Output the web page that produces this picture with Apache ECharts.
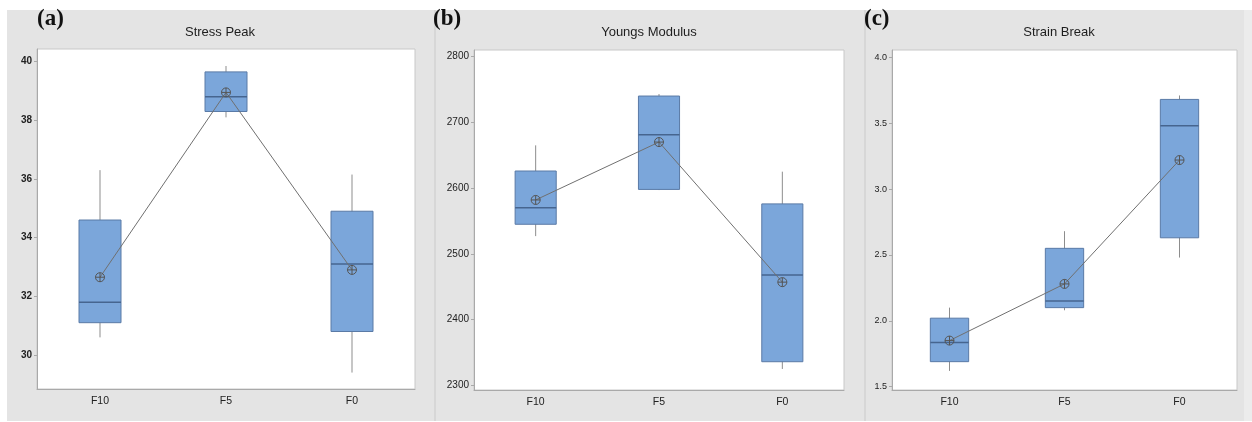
<!DOCTYPE html>
<html>
<head>
<meta charset="utf-8">
<script src="https://cdn.jsdelivr.net/npm/echarts@6/dist/echarts.min.js"></script>
<style>
  html, body { margin: 0; padding: 0; background: #fff; }
  #wrap { position: relative; width: 1252px; height: 422px; }
  .panel { position: absolute; top: 10px; height: 411px; background: #e4e4e4; }
  .sep { position: absolute; top: 10px; height: 411px; width: 2px; background: #d7d7d7; }
  #main { position: absolute; left: 0; top: 0; width: 1252px; height: 422px; }
</style>
</head>
<body>
<div id="wrap">
  <div class="panel" style="left:7px;width:1237px"></div>
  <div class="panel" style="left:1244px;width:8px;background:#ececec"></div>
  <div class="sep" style="left:434px"></div>
  <div class="sep" style="left:864px"></div>
  <div id="main"></div>
</div>
<script>
// groups on the x axis
var categories = ['F10', 'F5', 'F0'];

// (a) Stress Peak
var stressLow = [30.6, 38.1, 29.4];
var stressQ1 = [31.1, 38.3, 30.8];
var stressMedian = [31.8, 38.8, 33.1];
var stressQ3 = [34.6, 39.65, 34.9];
var stressHigh = [36.3, 39.85, 36.15];
var stressMean = [32.65, 38.95, 32.9];
var stressTicks = [30, 32, 34, 36, 38, 40];

// (b) Youngs Modulus
var youngsLow = [2527, 2597, 2325];
var youngsQ1 = [2545, 2598, 2336];
var youngsMedian = [2570, 2681, 2468];
var youngsQ3 = [2626, 2740, 2576];
var youngsHigh = [2665, 2743, 2625];
var youngsMean = [2582, 2670, 2457];
var youngsTicks = [2300, 2400, 2500, 2600, 2700, 2800];

// (c) Strain Break
var strainLow = [1.62, 2.08, 2.48];
var strainQ1 = [1.69, 2.10, 2.63];
var strainMedian = [1.835, 2.15, 3.48];
var strainQ3 = [2.02, 2.55, 3.68];
var strainHigh = [2.10, 2.68, 3.71];
var strainMean = [1.85, 2.28, 3.22];
var strainTicks = [1.5, 2.0, 2.5, 3.0, 3.5, 4.0];

var panels = [
  {label: '(a)', title: 'Stress Peak', low: stressLow, q1: stressQ1, med: stressMedian, q3: stressQ3, high: stressHigh, mean: stressMean, ticks: stressTicks,
   min: 28.84, max: 40.43, grid: {left: 37, top: 49, width: 378, height: 340}, titleX: 220, labelX: 37, fontSize: 10, bold: 'bold', fmt: function (v) { return v; }},
  {label: '(b)', title: 'Youngs Modulus', low: youngsLow, q1: youngsQ1, med: youngsMedian, q3: youngsQ3, high: youngsHigh, mean: youngsMean, ticks: youngsTicks,
   min: 2293, max: 2810, grid: {left: 474, top: 50, width: 370, height: 340}, titleX: 649, labelX: 433, fontSize: 10, bold: 'normal', fmt: function (v) { return v; }},
  {label: '(c)', title: 'Strain Break', low: strainLow, q1: strainQ1, med: strainMedian, q3: strainQ3, high: strainHigh, mean: strainMean, ticks: strainTicks,
   min: 1.475, max: 4.055, grid: {left: 892, top: 50, width: 345, height: 340}, titleX: 1059, labelX: 864, fontSize: 9, bold: 'normal', fmt: function (v) { return v.toFixed(1); }}
];

var font = '"Liberation Sans Narrow", "Liberation Sans", sans-serif';

function renderBox(params, api) {
  var x = api.value(0);
  var lo = api.coord([x, api.value(1)]);
  var q1 = api.coord([x, api.value(2)]);
  var md = api.coord([x, api.value(3)]);
  var q3 = api.coord([x, api.value(4)]);
  var hi = api.coord([x, api.value(5)]);
  var w = api.size([1, 0])[0] / 3;
  return {
    type: 'group',
    children: [
      {type: 'line', shape: {x1: lo[0], y1: lo[1], x2: hi[0], y2: hi[1]}, style: {stroke: '#8d8d8d', lineWidth: 1}},
      {type: 'rect', shape: {x: q3[0] - w / 2, y: q3[1], width: w, height: q1[1] - q3[1]},
       style: {fill: '#7ba6da', stroke: '#5a7aa6', lineWidth: 1}},
      {type: 'line', shape: {x1: md[0] - w / 2, y1: md[1], x2: md[0] + w / 2, y2: md[1]}, style: {stroke: '#46658f', lineWidth: 1.5}}
    ]
  };
}

var myChart = echarts.init(document.getElementById('main'), null, {renderer: 'canvas'});

var grids = [], xAxes = [], yAxes = [], series = [], graphics = [];
panels.forEach(function (p, i) {
  grids.push(Object.assign({show: true, backgroundColor: '#fff', borderColor: '#c8c8c8', borderWidth: 1}, p.grid));
  xAxes.push({
    gridIndex: i,
    type: 'category',
    data: categories,
    axisLine: {lineStyle: {color: '#a9a9a9'}},
    axisTick: {alignWithLabel: true, length: 3, lineStyle: {color: '#a9a9a9'}},
    axisLabel: {color: '#222', fontFamily: font, fontSize: 10.5, margin: 7}
  });
  yAxes.push({
    gridIndex: i,
    type: 'value',
    min: p.min,
    max: p.max,
    splitLine: {show: false},
    axisLine: {show: true, lineStyle: {color: '#a9a9a9'}},
    axisTick: {show: true, length: 3, customValues: p.ticks, lineStyle: {color: '#a9a9a9'}},
    axisLabel: {customValues: p.ticks, formatter: p.fmt, color: '#222', fontFamily: font,
                fontSize: p.fontSize, fontWeight: p.bold, margin: 5}
  });
  series.push({
    type: 'custom',
    xAxisIndex: i,
    yAxisIndex: i,
    renderItem: renderBox,
    encode: {x: 0, y: [1, 2, 3, 4, 5]},
    data: categories.map(function (c, k) {
      return [k, p.low[k], p.q1[k], p.med[k], p.q3[k], p.high[k]];
    })
  });
  series.push({
    type: 'line',
    xAxisIndex: i,
    yAxisIndex: i,
    data: p.mean,
    symbol: 'path://M0,5a5,5 0 1,0 10,0a5,5 0 1,0 -10,0M5,0L5,10M0,5L10,5',
    symbolSize: 9,
    lineStyle: {color: '#707070', width: 1},
    itemStyle: {color: 'rgba(0,0,0,0)', borderColor: '#555', borderWidth: 1},
    z: 5
  });
  graphics.push({
    type: 'text', x: p.titleX, y: 32,
    style: {text: p.title, fill: '#1e1e1e', font: '13px ' + font, textAlign: 'center', textVerticalAlign: 'middle'}
  });
  graphics.push({
    type: 'text', x: p.labelX, y: 19,
    style: {text: p.label, fill: '#111', font: 'bold 23px "Liberation Serif", serif', textAlign: 'left', textVerticalAlign: 'middle'}
  });
});

myChart.setOption({
  animation: false,
  grid: grids,
  xAxis: xAxes,
  yAxis: yAxes,
  series: series,
  graphic: graphics
});
</script>
</body>
</html>
